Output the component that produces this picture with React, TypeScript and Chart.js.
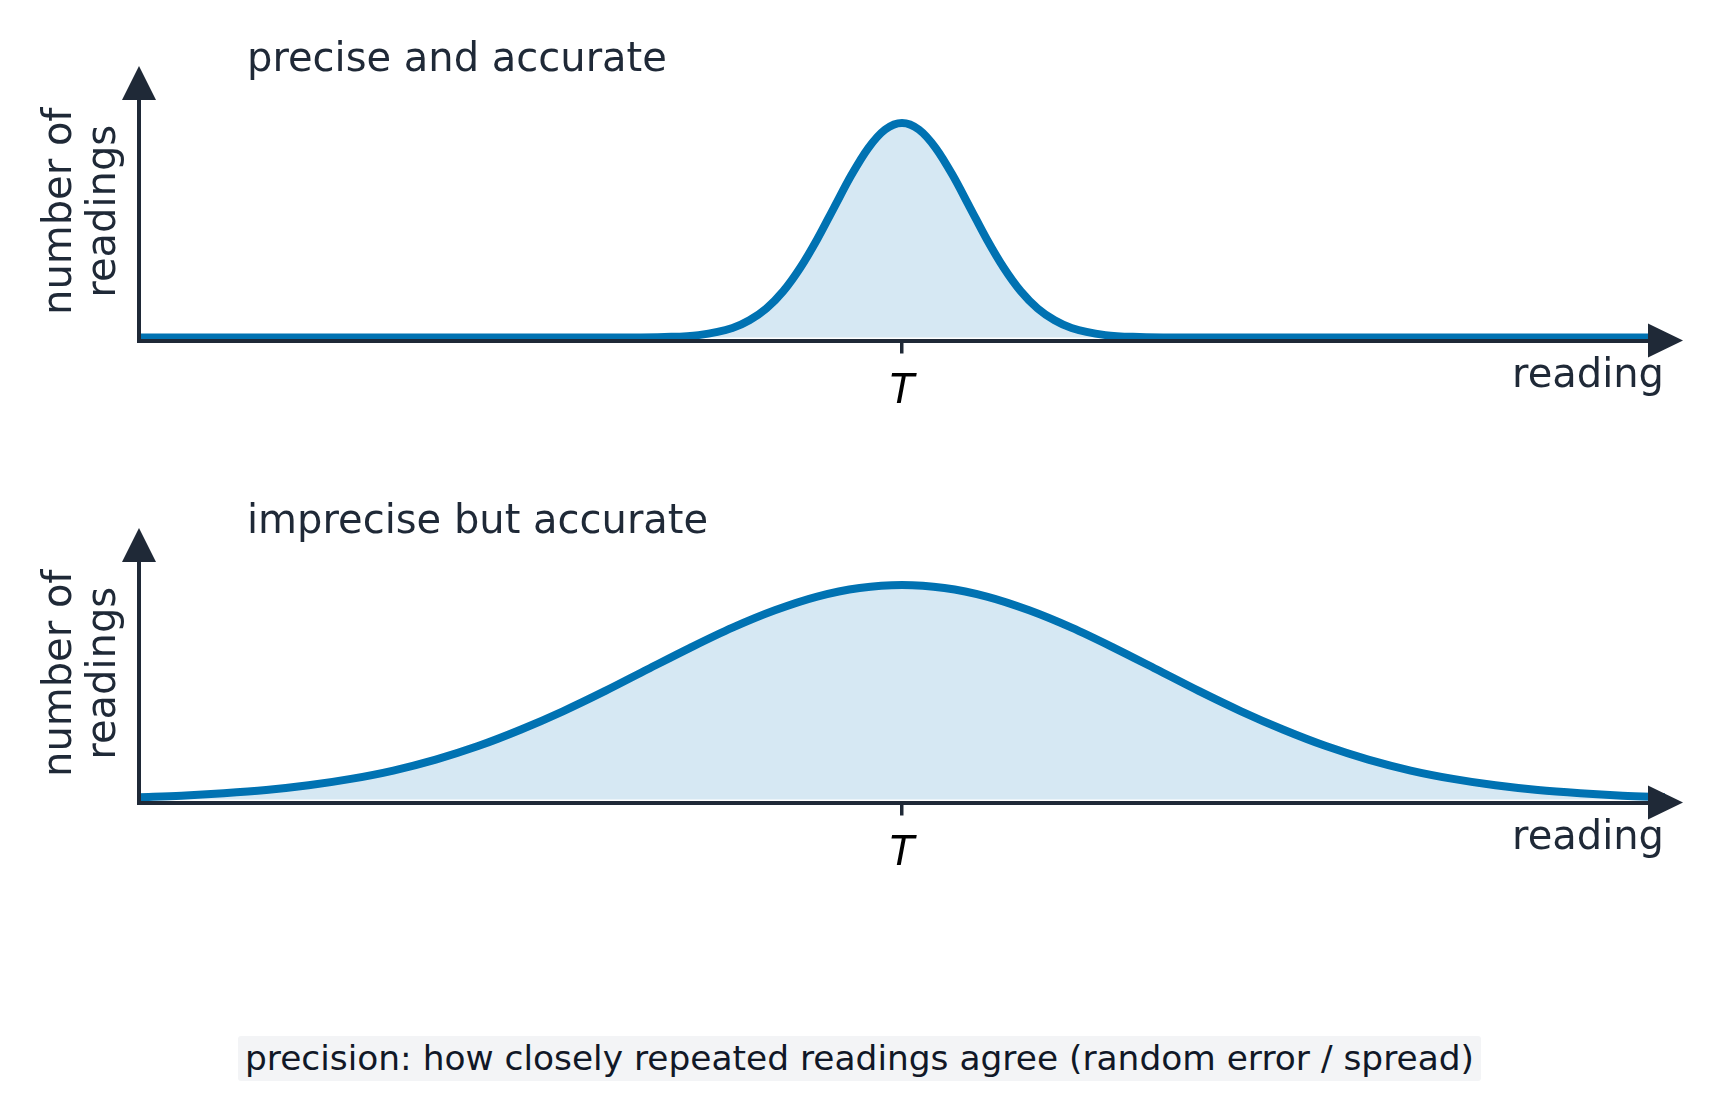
import React, { useEffect, useRef } from "react";
import { Chart, registerables } from "chart.js";

Chart.register(...registerables);

// ---------------- data ----------------
const READING_MIN = -4.5;
const READING_MAX = 4.5;
const TRUE_VALUE = 0;

// precise and accurate: narrow peak centred on T
const preciseX = [-4.5, -3.5, -2.5, -2, -1.6, -1.4, -1.2, -1, -0.9, -0.8, -0.7, -0.6, -0.5, -0.4, -0.3, -0.2, -0.1, 0,
  0.1, 0.2, 0.3, 0.4, 0.5, 0.6, 0.7, 0.8, 0.9, 1, 1.2, 1.4, 1.6, 2, 2.5, 3.5, 4.5];
const preciseY = [0, 0, 0, 0, 0, 0.002, 0.011, 0.044, 0.08, 0.135, 0.216, 0.325, 0.458, 0.607, 0.755, 0.882, 0.969, 1,
  0.969, 0.882, 0.755, 0.607, 0.458, 0.325, 0.216, 0.135, 0.08, 0.044, 0.011, 0.002, 0, 0, 0, 0, 0];

// imprecise but accurate: wide spread centred on T
const impreciseX = [-4.5, -4.25, -4, -3.75, -3.5, -3.25, -3, -2.75, -2.5, -2.25, -2, -1.75, -1.5, -1.25, -1, -0.75, -0.5, -0.25, 0,
  0.25, 0.5, 0.75, 1, 1.25, 1.5, 1.75, 2, 2.25, 2.5, 2.75, 3, 3.25, 3.5, 3.75, 4, 4.25, 4.5];
const impreciseY = [0.011, 0.018, 0.029, 0.044, 0.066, 0.096, 0.135, 0.186, 0.249, 0.325, 0.411, 0.506, 0.607, 0.707, 0.801, 0.882, 0.946, 0.986, 1,
  0.986, 0.946, 0.882, 0.801, 0.707, 0.607, 0.506, 0.411, 0.325, 0.249, 0.186, 0.135, 0.096, 0.066, 0.044, 0.029, 0.018, 0.011];

const PANEL_TITLES = ["precise and accurate", "imprecise but accurate"];
const Y_LABEL_LINES = ["number of", "readings"];
const X_LABEL = "reading";
const TICK_LABEL = "T";
const CAPTION = "precision: how closely repeated readings agree (random error / spread)";

// ---------------- styling ----------------
const PAGE_W = 1719;
const PAGE_H = 1117;
const PANEL_H = 462;
const AXIS_COLOR = "#1f2937";
const TEXT_COLOR = "#1f2937";
const LINE_COLOR = "#0072b2";
const FILL_COLOR = "rgba(0,114,178,0.16)";
const FONT = '"DejaVu Sans", "Noto Sans", sans-serif';

function Panel({ title, xs, ys, top }: { title: string; xs: number[]; ys: number[]; top: number }) {
  const ref = useRef<HTMLCanvasElement | null>(null);

  useEffect(() => {
    if (!ref.current) return;

    const decor = {
      id: "decor",
      afterDraw(chart: any) {
        const { ctx, chartArea: ca } = chart;
        ctx.save();
        ctx.fillStyle = AXIS_COLOR;
        // y-axis arrow head
        ctx.beginPath();
        ctx.moveTo(ca.left - 17, ca.top);
        ctx.lineTo(ca.left + 17, ca.top);
        ctx.lineTo(ca.left, ca.top - 34);
        ctx.closePath();
        ctx.fill();
        // x-axis arrow head
        const ay = ca.bottom;
        ctx.beginPath();
        ctx.moveTo(ca.right - 17, ay - 17);
        ctx.lineTo(ca.right - 17, ay + 17);
        ctx.lineTo(ca.right + 18, ay);
        ctx.closePath();
        ctx.fill();

        // panel title
        ctx.fillStyle = TEXT_COLOR;
        ctx.font = `40px ${FONT}`;
        ctx.textBaseline = "alphabetic";
        ctx.textAlign = "left";
        ctx.fillText(title, ca.left + 108, ca.top - 29);

        // x axis label
        ctx.textAlign = "right";
        ctx.fillText(X_LABEL, ca.right - 1, ca.bottom + 46.5);

        // y axis label (rotated, two lines)
        const cy = (ca.top + ca.bottom) / 2 - 9;
        Y_LABEL_LINES.forEach((line, i) => {
          ctx.save();
          ctx.translate(71 + i * 44, cy);
          ctx.rotate(-Math.PI / 2);
          ctx.textAlign = "center";
          ctx.fillText(line, 0, 0);
          ctx.restore();
        });
        ctx.restore();
      },
    };

    const chart = new Chart(ref.current, {
      type: "line",
      data: {
        datasets: [
          {
            data: xs.map((x, i) => ({ x, y: ys[i] })),
            borderColor: LINE_COLOR,
            backgroundColor: FILL_COLOR,
            borderWidth: 8,
            fill: "origin",
            pointRadius: 0,
            cubicInterpolationMode: "monotone",
            borderCapStyle: "round",
            borderJoinStyle: "round",
          },
        ],
      },
      options: {
        responsive: false,
        animation: false,
        devicePixelRatio: 1,
        layout: { padding: { left: 139, right: 54, top: 100, bottom: 0 } },
        plugins: { legend: { display: false }, tooltip: { enabled: false }, title: { display: false } },
        scales: {
          x: {
            type: "linear",
            min: READING_MIN,
            max: READING_MAX,
            afterBuildTicks: (scale: any) => {
              scale.ticks = [{ value: TRUE_VALUE }];
            },
            afterFit: (scale: any) => {
              scale.height = PANEL_H - 340.5;
            },
            grid: {
              display: true,
              drawOnChartArea: false,
              drawTicks: true,
              tickLength: 13,
              lineWidth: 3.5,
              color: AXIS_COLOR,
              z: 1,
            },
            border: { display: true, color: AXIS_COLOR, width: 4, z: 1 },
            ticks: {
              autoSkip: false,
              maxRotation: 0,
              padding: 15.5,
              color: "#000000",
              font: { family: FONT, size: 40, style: "italic" },
              callback: () => TICK_LABEL,
            },
          },
          y: {
            type: "linear",
            min: -0.014,
            max: 1.107,
            afterFit: (scale: any) => {
              scale.width = 0;
            },
            grid: { display: false },
            border: { display: true, color: AXIS_COLOR, width: 4, z: 1 },
            ticks: { display: false },
          },
        },
      },
      plugins: [decor],
    } as any);

    return () => chart.destroy();
  }, [title, xs, ys]);

  return (
    <canvas
      ref={ref}
      width={PAGE_W}
      height={PANEL_H}
      style={{ position: "absolute", left: 0, top, width: PAGE_W, height: PANEL_H, display: "block" }}
    />
  );
}

export default function App() {
  return (
    <div style={{ position: "absolute", left: 0, top: 0, width: PAGE_W, height: PAGE_H, background: "#ffffff", overflow: "hidden" }}>
      <Panel title={PANEL_TITLES[0]} xs={preciseX} ys={preciseY} top={0} />
      <Panel title={PANEL_TITLES[1]} xs={impreciseX} ys={impreciseY} top={PANEL_H} />
      <div style={{ position: "absolute", left: 0, top: 1036, width: PAGE_W, textAlign: "center" }}>
        <span
          style={{
            display: "inline-block",
            background: "#f3f4f6",
            color: "#111827",
            fontFamily: FONT,
            fontSize: 34.4,
            lineHeight: "45px",
            padding: "0 7px",
            borderRadius: 3,
          }}
        >
          {CAPTION}
        </span>
      </div>
    </div>
  );
}
